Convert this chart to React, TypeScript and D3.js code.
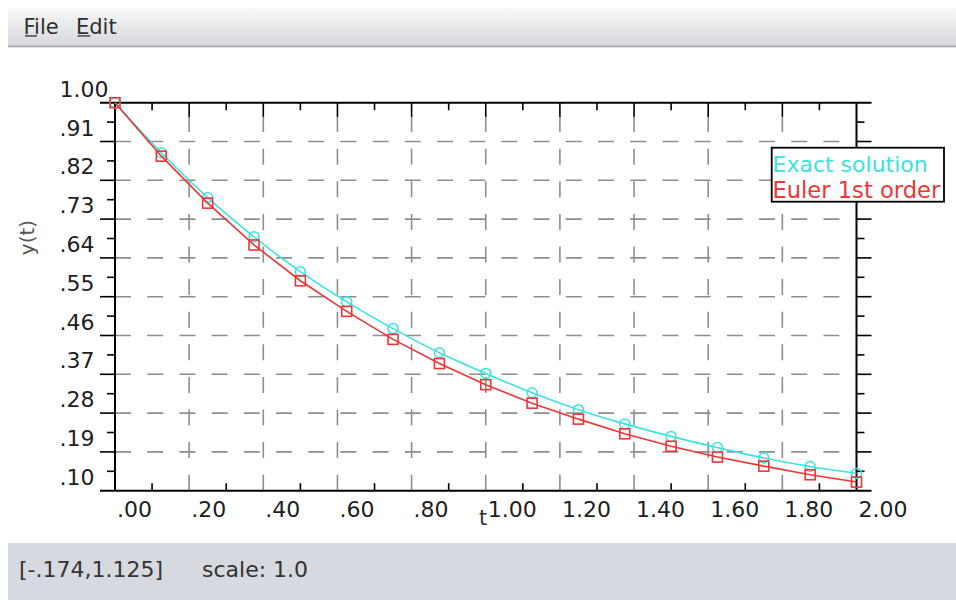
import React from 'react';
import * as d3 from 'd3';

// ---- data ----
const tValues = [0, 0.125, 0.25, 0.375, 0.5, 0.625, 0.75, 0.875, 1.0, 1.125, 1.25, 1.375, 1.5, 1.625, 1.75, 1.875, 2.0];
const exactValues = [1.0, 0.884, 0.78, 0.689, 0.608, 0.538, 0.476, 0.42, 0.372, 0.327, 0.288, 0.255, 0.226, 0.2, 0.176, 0.156, 0.14];
const eulerValues = [1.0, 0.876, 0.767, 0.67, 0.587, 0.516, 0.451, 0.395, 0.346, 0.303, 0.266, 0.232, 0.203, 0.178, 0.157, 0.137, 0.12];
const seriesNames = ['Exact solution', 'Euler 1st order'];

const xTickValues = [0, 0.2, 0.4, 0.6, 0.8, 1.0, 1.2, 1.4, 1.6, 1.8, 2.0];
const xTickLabels = ['.00', '.20', '.40', '.60', '.80', '1.00', '1.20', '1.40', '1.60', '1.80', '2.00'];
const yTickValues = [1.0, 0.91, 0.82, 0.73, 0.64, 0.55, 0.46, 0.37, 0.28, 0.19, 0.1];
const yTickLabels = ['1.00', '.91', '.82', '.73', '.64', '.55', '.46', '.37', '.28', '.19', '.10'];

const xAxisTitle = 't';
const yAxisTitle = 'y(t)';
const menuItems = ['File', 'Edit'];
const statusCoords = '[-.174,1.125]';
const statusScale = 'scale: 1.0';

const FONT = '"DejaVu Sans", sans-serif';
const CYAN = '#3be2e2';
const RED = '#ee3636';
const GRID = '#8e8e8e';

export default function App() {
  const PL = 115, PR = 856.5, PT = 102.7, PB = 490.7;
  const x = d3.scaleLinear().domain([0, 2]).range([PL, PR]);
  const y = d3.scaleLinear().domain([0.1, 1]).range([PB, PT]);

  const exactPts = tValues.map((t, i) => [x(t), y(exactValues[i])] as [number, number]);
  const eulerPts = tValues.map((t, i) => [x(t), y(eulerValues[i])] as [number, number]);
  const curveLine = d3.line().curve(d3.curveMonotoneX);
  const polyLine = d3.line();

  const xMinor = xTickValues.slice(0, -1).map((v, i) => (v + xTickValues[i + 1]) / 2);
  const yMinor = yTickValues.slice(0, -1).map((v, i) => (v + yTickValues[i + 1]) / 2);
  const xInner = xTickValues.slice(1, -1);
  const yInner = yTickValues.slice(1, -1);

  const menuX = [23.5, 76];
  const menuUnder = [12, 12.8];

  return (
    <svg width={956} height={600} style={{ position: 'absolute', left: 0, top: 0 }} fontFamily={FONT}>
      <defs>
        <linearGradient id="menuGrad" x1="0" y1="0" x2="0" y2="1">
          <stop offset="0" stopColor="#f8f8f8" />
          <stop offset="1" stopColor="#d6d8dc" />
        </linearGradient>
      </defs>
      <rect x={0} y={0} width={956} height={600} fill="#ffffff" />

      {/* menu bar */}
      <rect x={8} y={8} width={948} height={38} fill="url(#menuGrad)" />
      <rect x={8} y={45.5} width={948} height={1.8} fill="#a7a9ad" />
      {menuItems.map((m, i) => (
        <g key={m}>
          <text x={menuX[i]} y={33.5} fontSize={21} fill="#2e2e2e">{m}</text>
          <rect x={menuX[i] + 1.5} y={35.3} width={menuUnder[i]} height={1.3} fill="#2e2e2e" />
        </g>
      ))}

      {/* grid */}
      {xInner.map(v => (
        <line key={'gx' + v} x1={x(v)} x2={x(v)} y1={PB} y2={PT} stroke={GRID} strokeWidth={1.6} strokeDasharray="16,16.6" />
      ))}
      {yInner.map(v => (
        <line key={'gy' + v} x1={PL} x2={PR} y1={y(v)} y2={y(v)} stroke={GRID} strokeWidth={1.6} strokeDasharray="16,16.2" />
      ))}

      {/* ticks */}
      <g stroke="#000" strokeWidth={1.6}>
        {yInner.map(v => (
          <g key={'ty' + v}>
            <line x1={PL - 15} x2={PL} y1={y(v)} y2={y(v)} />
            <line x1={PR} x2={PR + 15} y1={y(v)} y2={y(v)} />
          </g>
        ))}
        {yMinor.map(v => (
          <g key={'tym' + v}>
            <line x1={PL - 8} x2={PL} y1={y(v)} y2={y(v)} />
            <line x1={PR} x2={PR + 8} y1={y(v)} y2={y(v)} />
          </g>
        ))}
        {xInner.map(v => (
          <line key={'tx' + v} x1={x(v)} x2={x(v)} y1={PT} y2={PT + 14} />
        ))}
        {xMinor.map(v => (
          <g key={'txm' + v}>
            <line x1={x(v)} x2={x(v)} y1={PT} y2={PT + 7.5} />
            <line x1={x(v)} x2={x(v)} y1={PB - 7.5} y2={PB} />
          </g>
        ))}
      </g>

      {/* frame */}
      <g stroke="#000" strokeWidth={2}>
        <line x1={PL - 15} x2={PR + 15} y1={PT} y2={PT} />
        <line x1={PL - 15} x2={PR + 15} y1={PB} y2={PB} />
        <line x1={PL} x2={PL} y1={PT} y2={PB} />
        <line x1={PR} x2={PR} y1={PT} y2={PB} />
      </g>

      {/* tick labels */}
      {yTickValues.map((v, i) => (
        <text key={'ly' + v} x={59.5} y={y(v) - 6} fontSize={22} fill="#1e1e1e">{yTickLabels[i]}</text>
      ))}
      {xTickValues.map((v, i) => (
        <text key={'lx' + v} x={x(v) + 2} y={517} fontSize={22} fill="#1e1e1e">{xTickLabels[i]}</text>
      ))}

      {/* axis titles */}
      <text x={479} y={525} fontSize={21} fill="#333">{xAxisTitle}</text>
      <text transform="translate(34,237.5) rotate(-90)" textAnchor="middle" fontSize={20} fill="#555">{yAxisTitle}</text>

      {/* series */}
      <path d={curveLine(exactPts) || ''} fill="none" stroke={CYAN} strokeWidth={1.6} />
      {exactPts.map((p, i) => (
        <circle key={'c' + i} cx={p[0]} cy={p[1]} r={5} fill="none" stroke={CYAN} strokeWidth={1.5} />
      ))}
      <path d={polyLine(eulerPts) || ''} fill="none" stroke={RED} strokeWidth={1.6} />
      {eulerPts.map((p, i) => (
        <rect key={'s' + i} x={p[0] - 5} y={p[1] - 5} width={10} height={10} fill="none" stroke={RED} strokeWidth={1.6} />
      ))}

      {/* legend */}
      <rect x={771.7} y={147.7} width={172.3} height={54} fill="#fff" stroke="#000" strokeWidth={1.8} />
      <text x={772.5} y={171.7} fontSize={22} fill={CYAN}>{seriesNames[0]}</text>
      <text x={772.5} y={198.3} fontSize={22.6} fill={RED}>{seriesNames[1]}</text>

      {/* status bar */}
      <rect x={8} y={543} width={948} height={57} fill="#d6d9df" />
      <text x={19} y={577} fontSize={22} fill="#333">{statusCoords}</text>
      <text x={202} y={577} fontSize={22} fill="#333">{statusScale}</text>
    </svg>
  );
}
